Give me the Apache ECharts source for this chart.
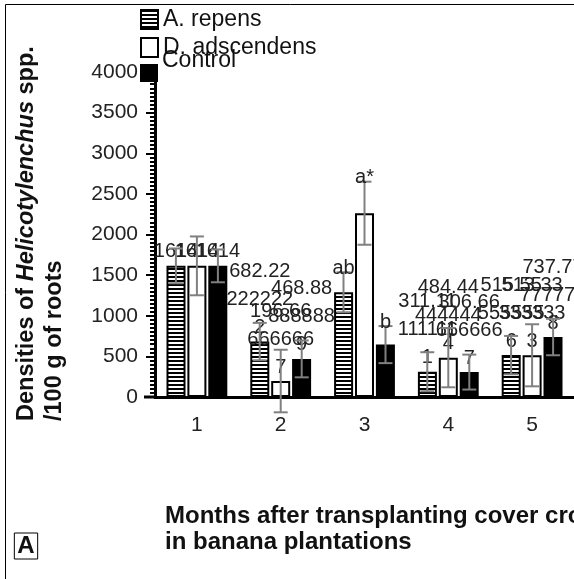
<!DOCTYPE html>
<html>
<head>
<meta charset="utf-8">
<script src="https://cdn.jsdelivr.net/npm/echarts@6/dist/echarts.min.js"></script>
<style>
  html, body { margin: 0; padding: 0; background: #fff; }
  #chart { width: 574px; height: 579px; }
</style>
</head>
<body>
<div id="chart"></div>
<script>
// months after transplanting
const months = ['1', '2', '3', '4', '5'];
// densities per 100 g of roots
const repens = [1614, 682.222222222, 1288.88888889, 311.111111111, 515.555555556];
const adscendens = [1614, 196.666666667, 2262, 484.444444444, 513.333333333];
const control = [1614, 468.888888889, 645, 306.666666667, 737.777777778];
// error bars (+/-)
const repensErr = [214, 230, 246, 240, 236];
const adscendensErr = [362, 385, 388, 365, 382];
const controlErr = [202, 227, 228, 215, 224];
// significance letters
const repensLetters = ['', '', 'ab', '', ''];
const adscendensLetters = ['', '', 'a*', '', ''];
const controlLetters = ['', '', 'b', '', ''];

const font = 'Liberation Sans, Arial, sans-serif';

// horizontal hatch for A. repens
const hatchCanvas = document.createElement('canvas');
hatchCanvas.width = 4;
hatchCanvas.height = 4;
const hctx = hatchCanvas.getContext('2d');
hctx.fillStyle = '#fff';
hctx.fillRect(0, 0, 4, 4);
hctx.fillStyle = '#000';
hctx.fillRect(0, 0, 4, 2);
const hatch = { image: hatchCanvas, repeat: 'repeat' };

function barSeries(name, values, letters, color, z) {
  return {
    name: name,
    type: 'bar',
    data: values,
    barWidth: 19,
    barGap: '10%',
    z: z,
    itemStyle: { color: color, borderColor: '#000', borderWidth: 2 },
    label: {
      show: true,
      position: 'top',
      distance: 0,
      formatter: function (p) {
        return letters[p.dataIndex] ? '' : String(p.value);
      },
      width: 70,
      overflow: 'breakAll',
      fontSize: 20,
      lineHeight: 28,
      fontFamily: font,
      color: '#222'
    }
  };
}

function errorSeries(values, errs, letters, offset) {
  return {
    type: 'custom',
    z: 6,
    silent: true,
    data: values.map(function (v, i) { return [i, v, errs[i]]; }),
    encode: { x: 0, y: 1 },
    renderItem: function (params, api) {
      const x = api.coord([api.value(0), 0])[0] + offset;
      const v = api.value(1);
      const e = api.value(2);
      const yTop = api.coord([api.value(0), v + e])[1];
      const yBot = api.coord([api.value(0), v - e])[1];
      const style = { stroke: '#808080', lineWidth: 2 };
      const children = [
        { type: 'line', shape: { x1: x, y1: yTop, x2: x, y2: yBot }, style: style },
        { type: 'line', shape: { x1: x - 7, y1: yTop, x2: x + 7, y2: yTop }, style: style },
        { type: 'line', shape: { x1: x - 7, y1: yBot, x2: x + 7, y2: yBot }, style: style }
      ];
      const letter = letters[params.dataIndex];
      if (letter) {
        children.push({
          type: 'text',
          style: {
            text: letter, x: x, y: yTop + 6,
            align: 'center', verticalAlign: 'bottom',
            fontSize: 20, fontFamily: font, fill: '#222'
          }
        });
      }
      return { type: 'group', children: children };
    }
  };
}

const legendText = { fontSize: 23, fontFamily: font, color: '#111' };

const chart = echarts.init(document.getElementById('chart'));
chart.setOption({
  animation: false,
  backgroundColor: '#fff',
  grid: { left: 155, top: 72, width: 420, bottom: 182 },
  legend: [
    {
      data: ['A. repens'], left: 140, top: 8, padding: 0, icon: 'rect',
      itemWidth: 17, itemHeight: 19, itemGap: 0, textStyle: legendText
    },
    {
      data: ['D. adscendens'], left: 140, top: 36, padding: 0, icon: 'rect',
      itemWidth: 17, itemHeight: 19, itemGap: 0, textStyle: legendText
    },
    {
      data: [{ name: 'Control', icon: 'none' }], left: 140, top: 49, padding: 0,
      itemWidth: 17, itemHeight: 19, itemGap: 0, textStyle: legendText
    }
  ],
  xAxis: {
    type: 'category',
    data: months,
    axisLine: { lineStyle: { color: '#000', width: 3 } },
    axisTick: { show: false },
    axisLabel: { margin: 18, fontSize: 21, fontFamily: font, color: '#222' }
  },
  yAxis: {
    type: 'value',
    min: 0,
    max: 4000,
    interval: 500,
    axisLine: { show: true, lineStyle: { color: '#000', width: 3 } },
    axisTick: { show: true, length: 9, lineStyle: { color: '#000', width: 2 } },
    minorTick: { show: true, splitNumber: 10, length: 5, lineStyle: { color: '#000', width: 2 } },
    splitLine: { show: false },
    axisLabel: {
      margin: 17, fontSize: 21, fontFamily: font, color: '#222',
      formatter: function (v) { return String(v); }
    }
  },
  graphic: [
    {
      type: 'rect', silent: true, z: -1,
      shape: { x: 5.5, y: 4.5, width: 700, height: 700 },
      style: { fill: 'none', stroke: '#000', lineWidth: 1 }
    },
    {
      // legend key for Control sits lower than its text
      type: 'rect', silent: true,
      shape: { x: 141, y: 65, width: 16, height: 16 },
      style: { fill: '#000', stroke: '#000', lineWidth: 2 }
    },
    {
      type: 'line', silent: true,
      shape: { x1: 144, y1: 397, x2: 156, y2: 397 },
      style: { stroke: '#000', lineWidth: 3 }
    },
    {
      type: 'text', x: 27, y: 421, rotation: Math.PI / 2,
      style: {
        text: '{a|Densities of }{b|Helicotylenchus}{a| spp.}',
        align: 'left', verticalAlign: 'middle',
        rich: {
          a: { fontSize: 23.5, fontWeight: 'bold', fontFamily: font, fill: '#111' },
          b: { fontSize: 23.5, fontWeight: 'bold', fontStyle: 'italic', fontFamily: font, fill: '#111' }
        }
      }
    },
    {
      type: 'text', x: 55, y: 421, rotation: Math.PI / 2,
      style: {
        text: '/100 g of roots', align: 'left', verticalAlign: 'middle',
        fontSize: 23.5, fontWeight: 'bold', fontFamily: font, fill: '#111'
      }
    },
    {
      type: 'text', x: 165, y: 516,
      style: {
        text: 'Months after transplanting cover crops', align: 'left', verticalAlign: 'middle',
        fontSize: 24, fontWeight: 'bold', fontFamily: font, fill: '#111'
      }
    },
    {
      type: 'text', x: 165, y: 542,
      style: {
        text: 'in banana plantations', align: 'left', verticalAlign: 'middle',
        fontSize: 24, fontWeight: 'bold', fontFamily: font, fill: '#111'
      }
    },
    {
      type: 'text', x: 26, y: 546,
      style: {
        text: 'A', align: 'center', verticalAlign: 'middle',
        fontSize: 24, fontWeight: 'bold', fontFamily: font, fill: '#111',
        borderColor: '#000', borderWidth: 1, padding: [2, 3, 0, 3]
      }
    }
  ],
  series: [
    barSeries('A. repens', repens, repensLetters, hatch, 2),
    barSeries('D. adscendens', adscendens, adscendensLetters, '#fff', 3),
    barSeries('Control', control, controlLetters, '#000', 4),
    errorSeries(repens, repensErr, repensLetters, -21),
    errorSeries(adscendens, adscendensErr, adscendensLetters, 0),
    errorSeries(control, controlErr, controlLetters, 21)
  ]
});
</script>
</body>
</html>
